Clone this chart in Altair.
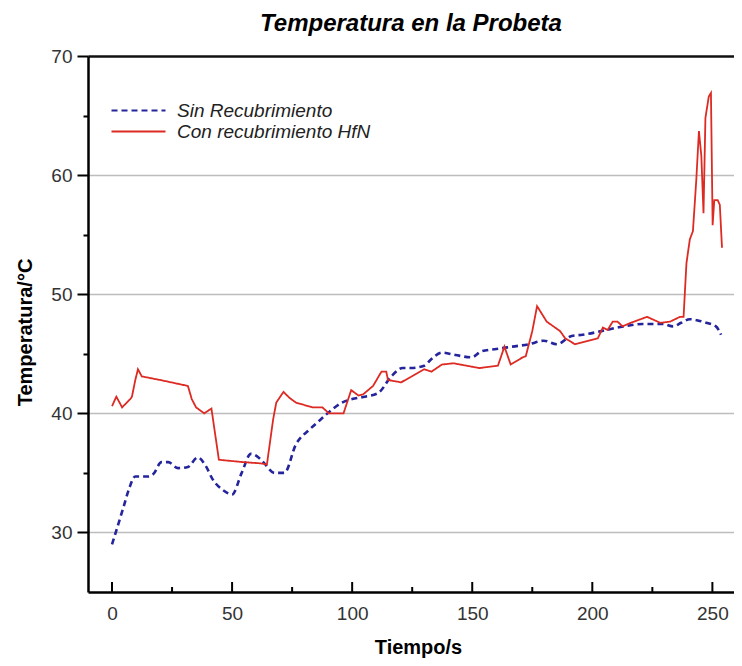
import altair as alt
import pandas as pd

series_names = ["Sin Recubrimiento", "Con recubrimiento HfN"]

sin_t = [0, 2, 4.9, 7, 9.7, 15.2, 17.2, 20.6, 23.4, 27.5, 31.6, 35.7, 39, 41.8, 46.6, 50,
         54, 57.8, 61, 63, 67.7, 71.8, 76.6, 82, 87, 90.3, 95.8, 100, 105.3, 110.8, 116.3,
         121, 124.4, 130, 132.7, 137.4, 143, 149.7, 153.8, 160, 166.8, 173.6, 179.8, 185.2,
         191.4, 196, 203.7, 210.5, 216, 221, 229.5, 233.6, 237, 240.6, 244, 247.4, 251.5, 253.6]
sin_temp = [29.0, 30.3, 32.2, 33.6, 34.7, 34.7, 34.9, 35.9, 35.9, 35.4, 35.5, 36.3, 35.6, 34.5,
            33.5, 33.2, 35.0, 36.6, 36.3, 35.9, 35.0, 35.0, 37.4, 38.6, 39.5, 40.1, 40.9, 41.2,
            41.4, 41.7, 43.1, 43.8, 43.8, 44.0, 44.5, 45.1, 44.9, 44.7, 45.2, 45.4, 45.6, 45.8,
            46.1, 45.8, 46.5, 46.6, 46.9, 47.2, 47.4, 47.5, 47.5, 47.3, 47.6, 47.9, 47.8, 47.6,
            47.3, 46.6]

con_t = [0, 1.8, 4.2, 7.6, 8.3, 9.7, 10.8, 12.4, 20, 31.6, 33.2, 35, 38.4, 41.4, 44.5, 54.8,
         62, 64.5, 67.1, 68.4, 71.4, 73.9, 76.6, 83.5, 87.6, 90.3, 96.4, 99.6, 102.6, 104.6,
         108.7, 112.2, 114.2, 114.9, 120.4, 130, 133, 137.4, 142.2, 153, 160.7, 163.4, 166,
         171, 172.3, 175, 177, 181, 186.6, 188.7, 192.8, 202.3, 204.4, 206.4, 208.5, 210.5,
         212.6, 216, 222.8, 228.3, 232.4, 236.5, 238, 239.2, 240.6, 241.9, 243.3, 244.4, 245.4,
         246.3, 247.1, 248.5, 249.4, 250.1, 250.8, 252.2, 253.1, 254]
con_temp = [40.6, 41.4, 40.5, 41.2, 41.4, 42.8, 43.7, 43.1, 42.8, 42.3, 41.2, 40.5, 40.0, 40.4,
            36.1, 35.9, 35.8, 35.7, 39.5, 40.9, 41.8, 41.3, 40.9, 40.5, 40.5, 40.0, 40.0, 41.95,
            41.5, 41.6, 42.3, 43.5, 43.5, 42.8, 42.6, 43.7, 43.5, 44.1, 44.2, 43.8, 44.0, 45.6,
            44.1, 44.7, 44.8, 46.9, 49.0, 47.7, 46.9, 46.3, 45.8, 46.3, 47.2, 47.0, 47.7, 47.7,
            47.3, 47.6, 48.1, 47.6, 47.7, 48.1, 48.1, 52.6, 54.6, 55.3, 59.6, 63.7, 61.6, 56.8,
            64.8, 66.6, 66.9, 55.8, 57.9, 57.9, 57.5, 53.9]

x_labels = [0, 50, 100, 150, 200, 250]
x_minor = [25, 75, 125, 175, 225]
y_ticks = [30, 35, 40, 45, 50, 55, 60, 65, 70]

df_sin = pd.DataFrame({"t": sin_t, "temp": sin_temp, "serie": series_names[0]})
df_con = pd.DataFrame({"t": con_t, "temp": con_temp, "serie": series_names[1]})
df_major = pd.DataFrame({"t": x_labels})
df_minor = pd.DataFrame({"t": x_minor})

FONT = "Liberation Sans"
H = 536
x_scale = alt.Scale(domain=[-10, 259], nice=False, zero=False)
y_scale = alt.Scale(domain=[25, 70], nice=False, zero=False)
color_scale = alt.Scale(domain=series_names, range=["#24249c", "#dd2a22"])
dash_scale = alt.Scale(domain=series_names, range=[[6, 4], [1, 0]])

leg = alt.Legend(
    orient="none", legendX=40, legendY=44, title=None,
    symbolType="M-3,0H3", symbolSize=324, symbolStrokeWidth=2.2,
    labelFont=FONT, labelFontStyle="italic", labelFontSize=19, labelColor="#222222",
    labelOffset=28, rowPadding=-2, labelLimit=400,
)

ymaj = "datum.value % 10 == 0"
y_axis = alt.Axis(
    values=y_ticks, title="Temperatura/°C",
    labelExpr=f"{ymaj} ? datum.label : ''",
    labelFont=FONT, labelFontSize=19, labelColor="#333333", labelPadding=5,
    tickSize={"condition": {"test": ymaj, "value": 11}, "value": 5},
    tickColor="black", tickWidth=2,
    domainColor="black", domainWidth=2.5,
    grid=True,
    gridOpacity={"condition": {"test": ymaj, "value": 1}, "value": 0},
    gridColor={"condition": {"test": "datum.value == 70", "value": "#111111"}, "value": "#bdbdbd"},
    gridWidth={"condition": {"test": "datum.value == 70", "value": 2.5}, "value": 1.5},
    titleFont=FONT, titleFontSize=20, titleFontWeight="bold", titleColor="black",
    titleAngle=270, titleX=-63, titleY=276, titleAlign="center", titleBaseline="middle",
)

x_axis = alt.Axis(
    orient="bottom", values=x_labels, title="Tiempo/s", ticks=False, grid=False,
    labelFont=FONT, labelFontSize=19, labelColor="#333333", labelPadding=12,
    domainColor="black", domainWidth=2.5,
    titleFont=FONT, titleFontSize=20, titleFontWeight="bold", titleColor="black",
    titleX=330, titleY=55, titleAlign="center", titleBaseline="middle",
)

blue = alt.Chart(df_sin).mark_line(interpolate="monotone", strokeWidth=2.6).encode(
    x=alt.X("t:Q", scale=x_scale, axis=x_axis),
    y=alt.Y("temp:Q", scale=y_scale, axis=y_axis),
    color=alt.Color("serie:N", scale=color_scale, legend=leg),
    strokeDash=alt.StrokeDash("serie:N", scale=dash_scale, legend=leg),
)

red = alt.Chart(df_con).mark_line(strokeWidth=1.8).encode(
    x=alt.X("t:Q", scale=x_scale, axis=None),
    y=alt.Y("temp:Q", scale=y_scale, axis=None),
    color=alt.Color("serie:N", scale=color_scale, legend=leg),
    strokeDash=alt.StrokeDash("serie:N", scale=dash_scale, legend=leg),
)

# inward-pointing x-axis ticks (major and minor)
major_ticks = alt.Chart(df_major).mark_rule(color="black", strokeWidth=2).encode(
    x=alt.X("t:Q", scale=x_scale, axis=None),
    y=alt.value(H),
    y2=alt.value(H - 10),
)
minor_ticks = alt.Chart(df_minor).mark_rule(color="black", strokeWidth=2).encode(
    x=alt.X("t:Q", scale=x_scale, axis=None),
    y=alt.value(H),
    y2=alt.value(H - 5),
)

chart = alt.layer(blue, red, major_ticks, minor_ticks).resolve_axis(
    x="independent", y="independent"
).properties(
    width=646, height=H,
    autosize=alt.AutoSizeParams(type="none"),
    padding={"left": 80, "top": 48, "right": 0, "bottom": 66},
    title=alt.TitleParams(
        "Temperatura en la Probeta", font=FONT, fontSize=24, fontStyle="italic",
        fontWeight="bold", color="black", anchor="middle", offset=11,
    ),
).configure_view(stroke=None)

chart.save("out.html", embed_options={"renderer": "svg", "actions": False})
